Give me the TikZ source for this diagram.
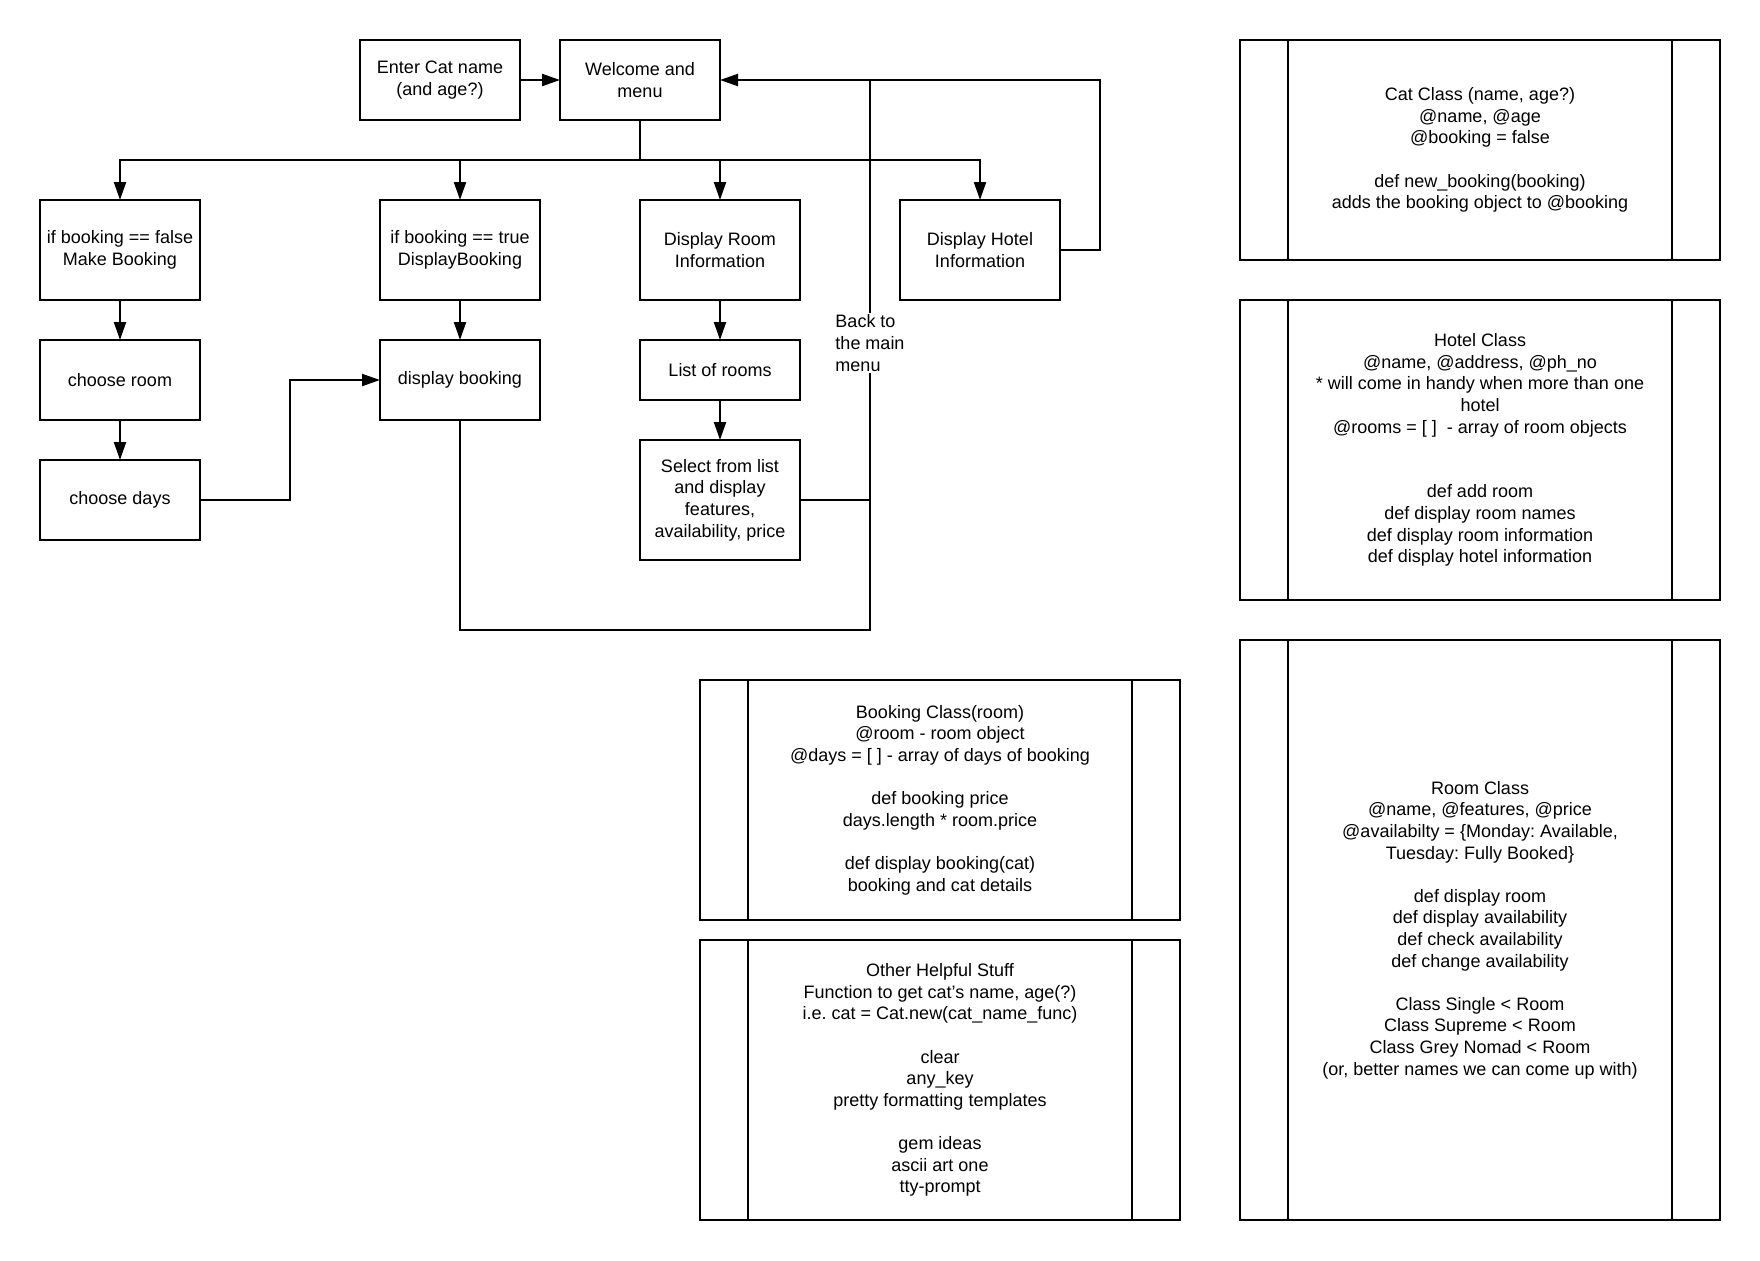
\documentclass[tikz,border=0pt]{standalone}
\usepackage{fontspec}
\setmainfont{Liberation Sans}
\usetikzlibrary{arrows.meta}
\frenchspacing

\begin{document}
\begin{tikzpicture}[x=0.5pt,y=-0.5pt,line width=1pt,>={Triangle[length=9pt,width=6pt]}]
\tikzstyle{every node}+=[inner sep=0pt,outer sep=0pt,font=\fontsize{9}{10.8}\selectfont,align=center]
\tikzstyle{box}=[draw,minimum width=80pt]
\tikzstyle{cls}=[draw,minimum width=240pt]
\fill [white] (0,0) rectangle (1760,1260);
\useasboundingbox (0,0) rectangle (1760,1260);
\node [box,minimum height=40pt] (enter) at (440,80) {Enter Cat name\\(and age?)};
\node [box,minimum height=40pt] (welcome) at (640,80) {Welcome and\\menu};
\node [box,minimum height=50pt] (make) at (120,250) {if booking == false\\Make Booking};
\node [box,minimum height=40pt] (room) at (120,380) {choose room};
\node [box,minimum height=40pt] (days) at (120,500) {choose days};
\node [box,minimum height=50pt] (showbk) at (460,250) {if booking == true\\DisplayBooking};
\node [box,minimum height=40pt] (dispbk) at (460,380) {display booking};
\node [box,minimum height=50pt] (roominfo) at (720,250) {Display Room\\Information};
\node [box,minimum height=30pt] (list) at (720,370) {List of rooms};
\node [box,minimum height=60pt] (select) at (720,500) {Select from list\\and display\\features,\\availability, price};
\node [box,minimum height=50pt] (hotelinfo) at (980,250) {Display Hotel\\Information};
\coordinate (split) at (640,160);
\coordinate (back) at (870,630);
\draw [->] (enter) -- (welcome);
\draw (welcome) -- (split);
\draw [->] (split) -| (make);
\draw [->] (split) -| (showbk);
\draw [->] (split) -| (roominfo);
\draw [->] (split) -| (hotelinfo);
\draw [->] (make) -- (room);
\draw [->] (room) -- (days);
\draw [->] (days.east) -- ++(90,0) |- (dispbk);
\draw [->] (showbk) -- (dispbk);
\draw [->] (roominfo) -- (list);
\draw [->] (list) -- (select);
\draw [->] (dispbk) |- (back) -- (back |- welcome) -- (welcome);
\draw (select.east) -- (select.east -| back);
\draw (hotelinfo.east) -- ++(40,0) |- (back |- welcome);
\node [fill=white,align=left,inner sep=1pt] (backlbl) at (870,343) {Back to\\the main\\menu};
\node [cls,minimum height=110pt] (catcls) at (1480,150) {Cat Class (name, age?)\\@name, @age\\@booking = false\\[10.8pt]def new\_booking(booking)\\adds the booking object to @booking};
\node [cls,minimum height=150pt] (hotelcls) at (1480,450) {Hotel Class\\@name, @address, @ph\_no\\* will come in handy when more than one\\hotel\\@rooms = [ ] \ - array of room objects\\[21.6pt]def add room\\def display room names\\def display room information\\def display hotel information};
\node [cls,minimum height=290pt] (roomcls) at (1480,930) {Room Class\\@name, @features, @price\\@availabilty = \{Monday: Available,\\Tuesday: Fully Booked\}\\[10.8pt]def display room\\def display availability\\def check availability\\def change availability\\[10.8pt]Class Single < Room\\Class Supreme < Room\\Class Grey Nomad < Room\\(or, better names we can come up with)};
\node [cls,minimum height=120pt] (bookcls) at (940,800) {Booking Class(room)\\@room - room object\\@days = [ ] - array of days of booking\\[10.8pt]def booking price\\days.length * room.price\\[10.8pt]def display booking(cat)\\booking and cat details};
\node [cls,minimum height=140pt] (othercls) at (940,1080) {Other Helpful Stuff\\Function to get cat\symbol{39}s name, age(?)\\i.e. cat = Cat.new(cat\_name\_func)\\[10.8pt]clear\\any\_key\\pretty formatting templates\\[10.8pt]gem ideas\\ascii art one\\tty-prompt};
\foreach \c in {catcls,hotelcls,roomcls,bookcls,othercls} {
  \draw ([xshift=24pt]\c.north west) -- ([xshift=24pt]\c.south west);
  \draw ([xshift=-24pt]\c.north east) -- ([xshift=-24pt]\c.south east);
}
\end{tikzpicture}
\end{document}
